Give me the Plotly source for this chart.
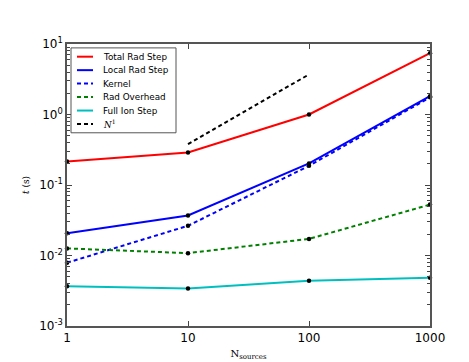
import plotly.graph_objects as go

n_sources = [1, 10, 100, 1000]
total_rad = [0.215, 0.29, 1.0, 7.4]
local_rad = [0.0207, 0.037, 0.202, 1.82]
kernel = [0.0079, 0.0264, 0.187, 1.75]
rad_overhead = [0.0126, 0.0108, 0.0172, 0.0527]
full_ion = [0.00367, 0.0034, 0.0044, 0.00484]
n1_x = [10, 100]
n1_y = [0.38, 3.7]

DASH = "4px,3px"
series = [
    ("Total Rad Step", total_rad, "#ff0000", "solid"),
    ("Local Rad Step", local_rad, "#0000ff", "solid"),
    ("Kernel", kernel, "#0000ff", DASH),
    ("Rad Overhead", rad_overhead, "#008000", DASH),
    ("Full Ion Step", full_ion, "#00bfbf", "solid"),
]

fig = go.Figure()
for name, ys, col, dash in series:
    fig.add_trace(go.Scatter(x=n_sources, y=ys, mode="lines", name=name, showlegend=False,
                             line=dict(color=col, width=2, dash=dash)))
fig.add_trace(go.Scatter(x=n1_x, y=n1_y, mode="lines", showlegend=False,
                         name="N1", line=dict(color="black", width=2, dash=DASH)))
for name, ys, col, dash in series:
    fig.add_trace(go.Scatter(x=n_sources, y=ys, mode="markers", showlegend=False,
                             marker=dict(color="black", size=4.5), cliponaxis=False))

# manual legend (paper coordinates of the plot area)
legend_entries = [(s[0], s[2], s[3]) for s in series] + [("<i>N</i><sup>1</sup>", "black", DASH)]
L, R, T, B = 59, 422, 36, 325
def px(X):
    return (X - L) / (R - L)
def py(Y):
    return (B - Y) / (B - T)

shapes = [dict(type="rect", xref="paper", yref="paper",
               x0=px(63), x1=px(168), y0=py(127), y1=py(40),
               line=dict(color="#555555", width=1), fillcolor="white", layer="above")]
annotations = []
for i, (label, col, dash) in enumerate(legend_entries):
    Y = 49 + i * 13.8
    shapes.append(dict(type="line", xref="paper", yref="paper",
                       x0=px(69), x1=px(85), y0=py(Y), y1=py(Y),
                       line=dict(color=col, width=2, dash=dash), layer="above"))
    fam = "DejaVu Serif" if i == 5 else "DejaVu Sans"
    annotations.append(dict(text=label, xref="paper", yref="paper", x=px(93), y=py(Y),
                            xanchor="left", yanchor="middle", showarrow=False,
                            font=dict(family=fam, size=8.8, color="black")))

ytick_vals = [1e-3, 1e-2, 1e-1, 1, 10]
ytick_text = ["10<sup>-3</sup>", "10<sup>-2</sup>", "10<sup>-1</sup>", "10<sup>0</sup>", "10<sup>1</sup>"]
minor_vals = [m * d for d in [1e-3, 1e-2, 1e-1, 1] for m in range(2, 10)]

fig.update_layout(
    width=469, height=362,
    margin=dict(l=L, r=469 - R, t=T, b=362 - B),
    paper_bgcolor="white", plot_bgcolor="white",
    font=dict(family="DejaVu Sans", size=12, color="black"),
    showlegend=False,
    shapes=shapes, annotations=annotations,
    xaxis=dict(type="log", range=[0, 3], tickvals=n_sources,
               ticktext=["1", "10", "100", "1000"],
               ticks="inside", ticklen=5, showgrid=False, zeroline=False,
               showline=True, linecolor="#555555", linewidth=1.5, mirror="ticks",
               tickfont=dict(size=12),
               title=dict(text="N<sub>sources</sub>", font=dict(family="DejaVu Serif", size=10), standoff=6)),
    yaxis=dict(type="log", range=[-3, 1], tickvals=ytick_vals, ticktext=ytick_text,
               ticks="inside", ticklen=5, showgrid=False, zeroline=False,
               showline=True, linecolor="#555555", linewidth=1.5, mirror="ticks",
               tickfont=dict(size=12),
               minor=dict(ticks="inside", ticklen=3, showgrid=False,
                          tickmode="array", tickvals=minor_vals),
               title=dict(text="<i>t</i> (s)", font=dict(family="DejaVu Serif", size=9), standoff=8)),
)
fig.write_html("out.html")
